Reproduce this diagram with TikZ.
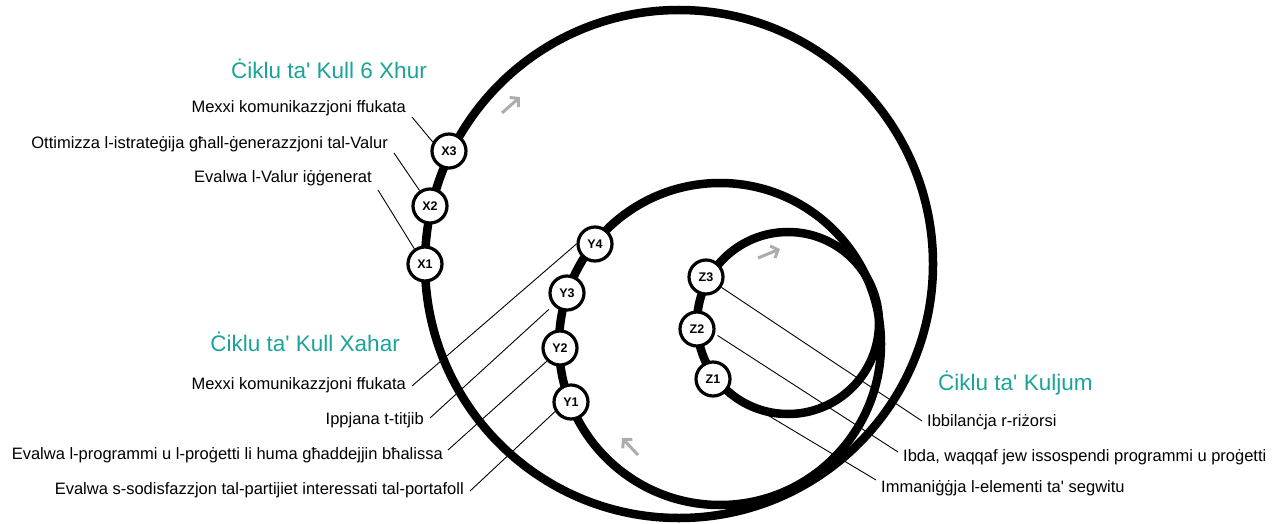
\documentclass[tikz,border=0pt]{standalone}
\usepackage{fontspec}
\setmainfont{Liberation Sans}[Ligatures=TeXOff]
\usetikzlibrary{arrows.meta}
\definecolor{tealtitle}{RGB}{26,163,153}
\definecolor{arrowgray}{RGB}{172,172,172}
\begin{document}
\begin{tikzpicture}[x=1pt,y=-1pt,
  loopline/.style={line width=8.5pt, draw=black},
  stage/.style={circle, draw=black, line width=3.2pt, fill=white, minimum size=34pt, inner sep=0pt, font=\fontsize{12.5}{13}\selectfont\bfseries},
  lbl/.style={inner sep=0pt, font=\fontsize{16.5}{20}\selectfont, text=black},
  ttl/.style={inner sep=0pt, font=\fontsize{22.5}{27}\selectfont, text=tealtitle},
  leader/.style={line width=0.9pt, draw=black},
  flow/.style={line width=3pt, draw=arrowgray, -{Straight Barb[length=6pt,width=13pt]}}]

\useasboundingbox (0,0) rectangle (1282,524);

% loops
\draw[loopline] (679,264) circle (254pt);
\draw[loopline] (720,344) circle (161pt);
\draw[loopline] (788,323) circle (91pt);

% direction arrows
\coordinate (a1s) at (502,113); \coordinate (a1e) at (520,97);
\coordinate (a2s) at (758,258); \coordinate (a2e) at (780,249);
\coordinate (a3s) at (638,455); \coordinate (a3e) at (622,438);
\draw[flow] (a1s) -- (a1e);
\draw[flow] (a2s) -- (a2e);
\draw[flow] (a3s) -- (a3e);

% stages
\node[stage] (X1) at (425,264) {X1};
\node[stage] (X2) at (430,206) {X2};
\node[stage] (X3) at (449,151) {X3};
\node[stage] (Y1) at (571,402) {Y1};
\node[stage] (Y2) at (560,348) {Y2};
\node[stage] (Y3) at (567,293) {Y3};
\node[stage] (Y4) at (595,244) {Y4};
\node[stage] (Z1) at (713,379) {Z1};
\node[stage] (Z2) at (697,329) {Z2};
\node[stage] (Z3) at (706,277) {Z3};

% titles
\node[ttl, anchor=mid east] (t6) at (427,76) {Ċiklu ta' Kull 6 Xhur};
\node[ttl, anchor=mid east] (tm) at (400,349) {Ċiklu ta' Kull Xahar};
\node[ttl, anchor=mid west] (td) at (938,388) {Ċiklu ta' Kuljum};

% labels
\node[lbl, anchor=mid east] (lX3) at (406,110) {Mexxi komunikazzjoni ffukata};
\node[lbl, anchor=mid east] (lX2) at (388,146) {Ottimizza l-istrateġija għall-ġenerazzjoni tal-Valur};
\node[lbl, anchor=mid east] (lX1) at (372,180) {Evalwa l-Valur iġġenerat};
\node[lbl, anchor=mid east] (lY4) at (406,387) {Mexxi komunikazzjoni ffukata};
\node[lbl, anchor=mid east] (lY3) at (424,422) {Ippjana t-titjib};
\node[lbl, anchor=mid east] (lY2) at (443,457) {Evalwa l-programmi u l-proġetti li huma għaddejjin bħalissa};
\node[lbl, anchor=mid east] (lY1) at (464,492) {Evalwa s-sodisfazzjon tal-partijiet interessati tal-portafoll};
\node[lbl, anchor=mid west] (lZ3) at (927,424) {Ibbilanċja r-riżorsi};
\node[lbl, anchor=mid west] (lZ2) at (903,459) {Ibda, waqqaf jew issospendi programmi u proġetti};
\node[lbl, anchor=mid west] (lZ1) at (881,490) {Immaniġġja l-elementi ta' segwitu};

% leader ends
\coordinate (cX3) at (412,117);
\coordinate (cX2) at (394,153);
\coordinate (cX1) at (378,190);
\coordinate (cY4) at (412,386);
\coordinate (cY3) at (430,418);
\coordinate (cY2) at (448,450);
\coordinate (cY1) at (470,491);
\coordinate (cZ3) at (922,421);
\coordinate (cZ2) at (898,452);
\coordinate (cZ1) at (876,480);

\draw[leader] (cX3) -- (X3.151);
\draw[leader] (cX2) -- (X2.124);
\draw[leader] (cX1) -- (X1.125);
\draw[leader] (cY4) -- (Y4.180);
\draw[leader, shorten >=6pt] (cY3) -- (Y3.222);
\draw[leader] (cY2) -- (Y2.225);
\draw[leader] (cY1) -- (Y1.211);
\draw[leader] (Z3.-34) -- (cZ3);
\draw[leader, shorten <=3pt] (Z2.-15) -- (cZ2);
\draw[leader] (Z1.-40) -- (cZ1);
\end{tikzpicture}
\end{document}
